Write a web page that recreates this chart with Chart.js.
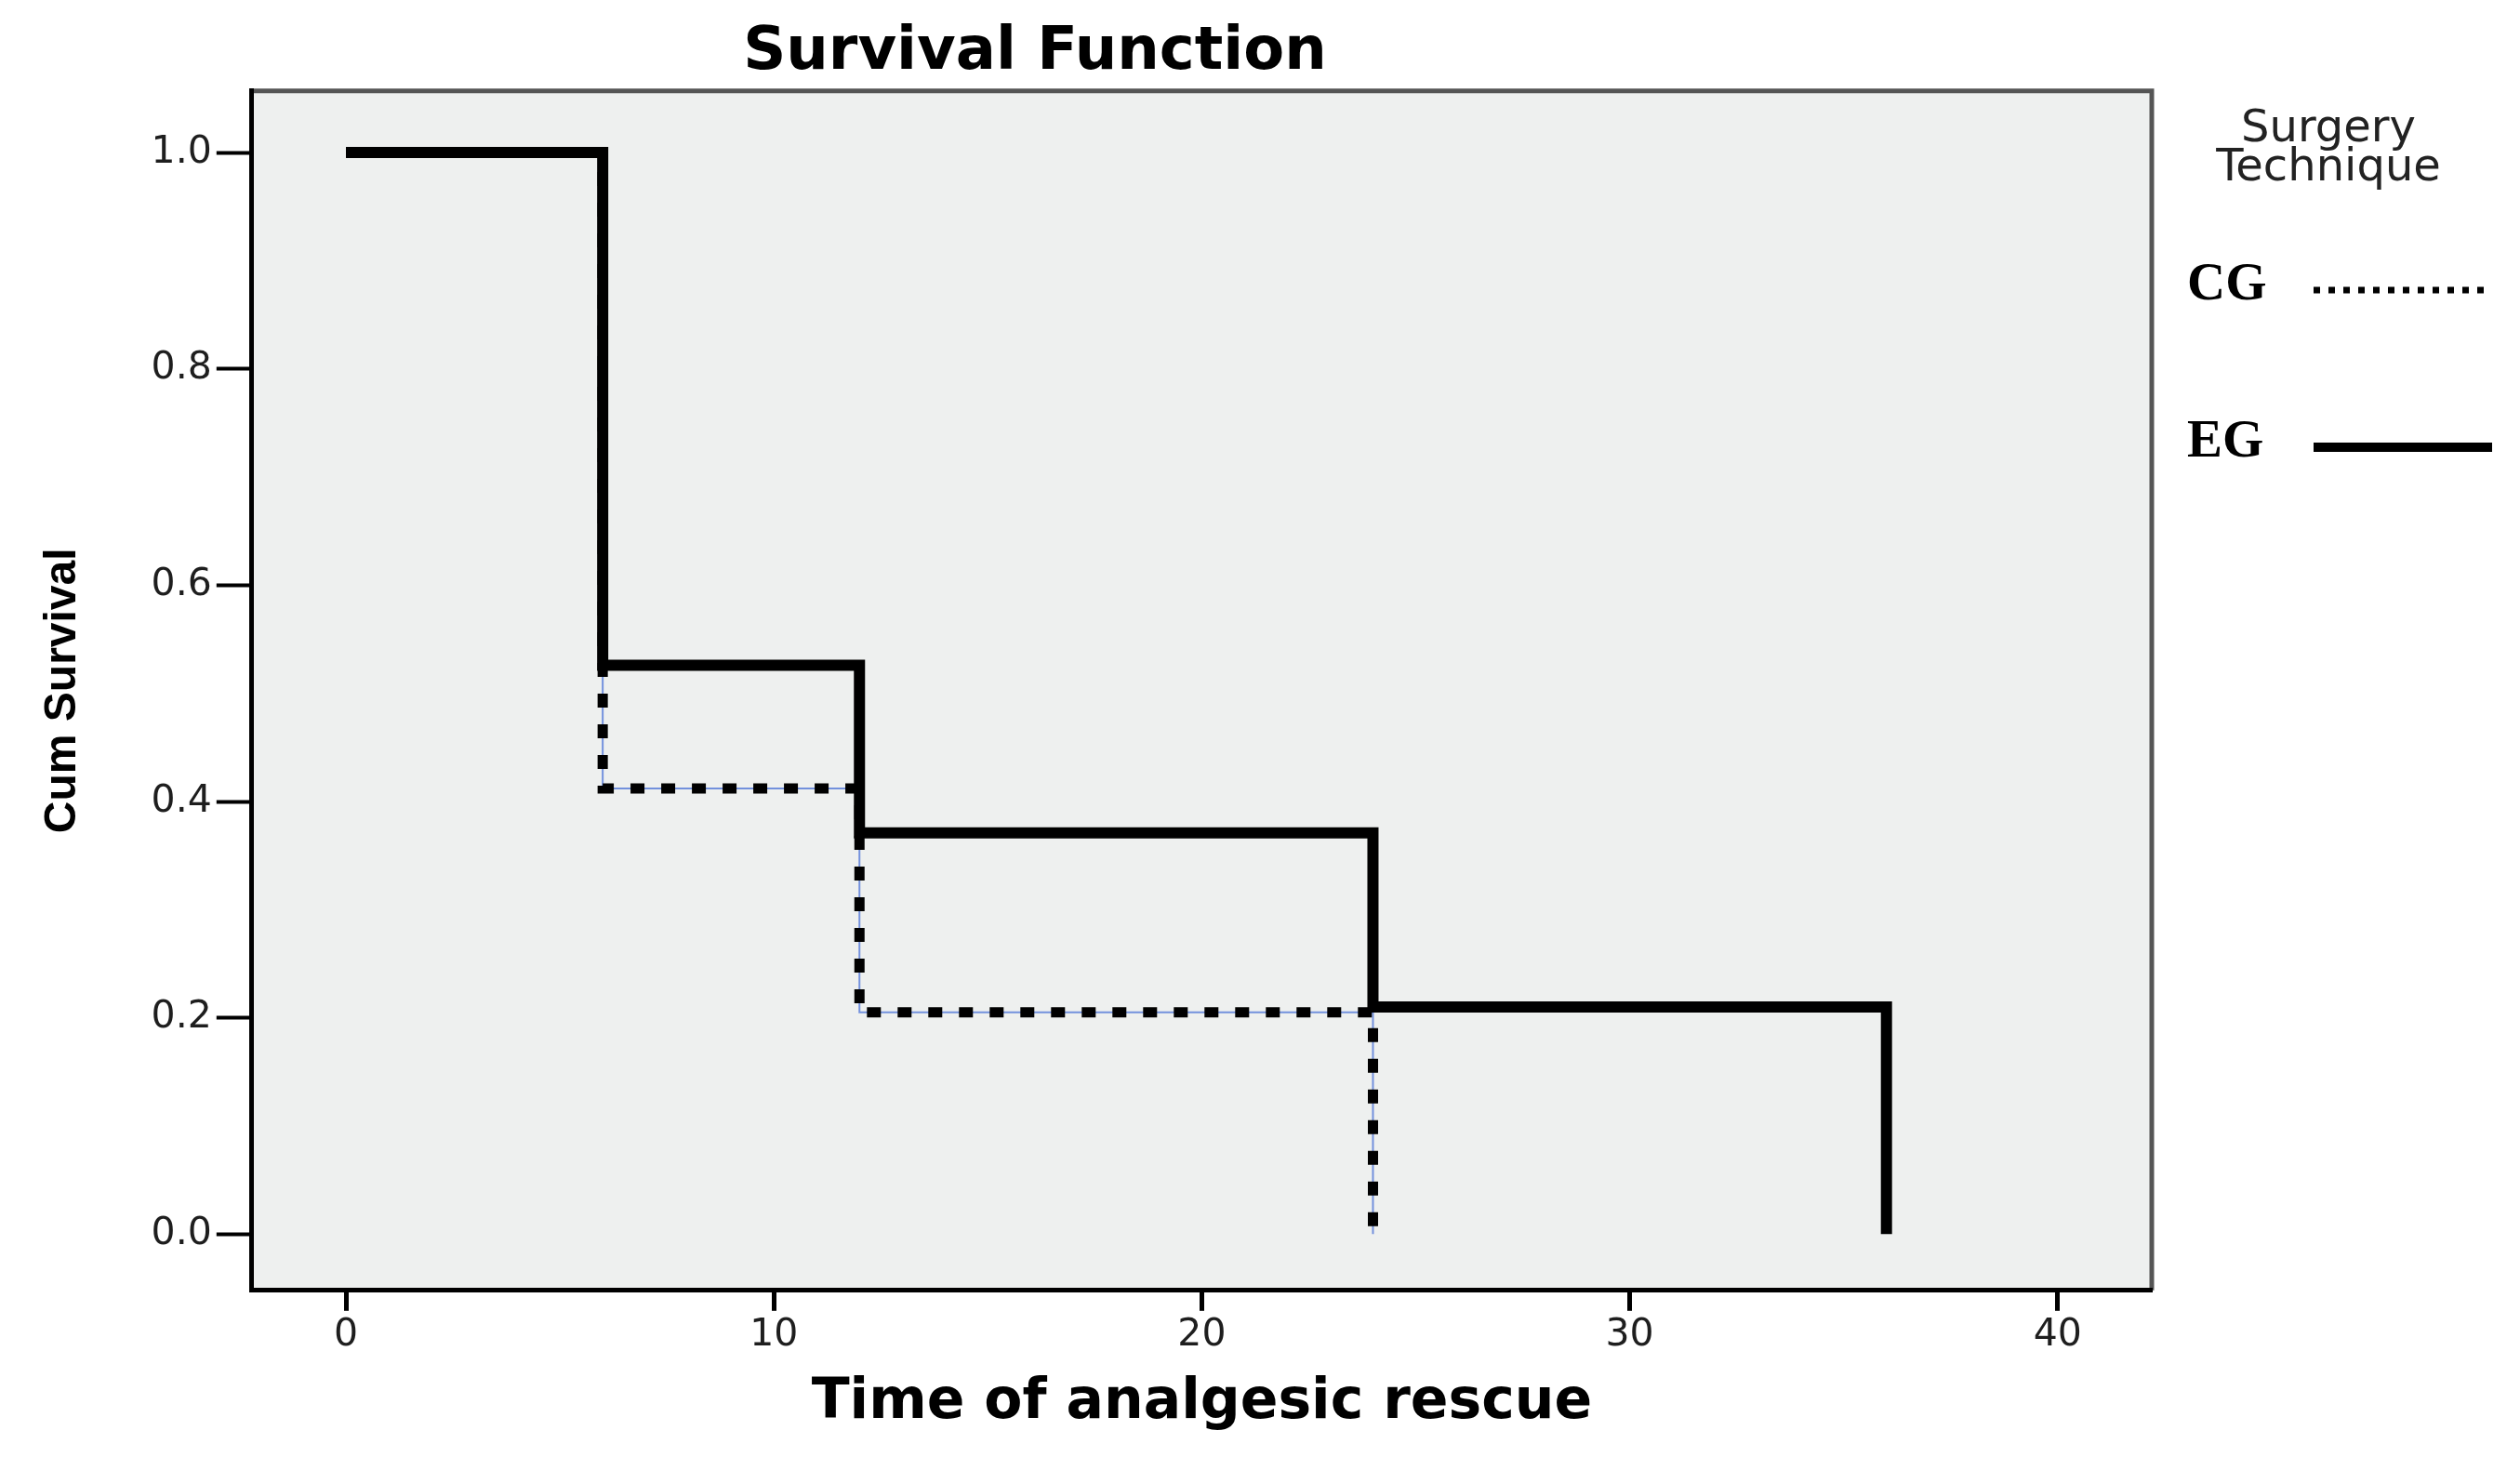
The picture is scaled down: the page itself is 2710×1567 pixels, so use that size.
<!DOCTYPE html>
<html lang="en">
<head>
  <meta charset="UTF-8" />
  <title>Survival Function</title>
  <script src="https://cdn.jsdelivr.net/npm/chart.js"></script>
  <style>
    body { margin: 0; background: #fff; }
    canvas { display: block; }
  </style>
</head>
<body>

  <canvas id="survivalChart" width="2710" height="1567"></canvas>

  <script>
    // Kaplan-Meier steps
    const groupNames = ['CG', 'EG'];
    const cgTimes = [0, 6, 12, 24];
    const cgSurvival = [1.0, 0.412, 0.205, 0.0];
    const egTimes = [0, 6, 12, 24, 36];
    const egSurvival = [1.0, 0.526, 0.371, 0.21, 0.0];

    const xTicks = [0, 10, 20, 30, 40];
    const yTicks = [0.0, 0.2, 0.4, 0.6, 0.8, 1.0];
    const legendTitle = ['Surgery', 'Technique'];

    const toPoints = (xs, ys) => xs.map((x, i) => ({ x: x, y: ys[i] }));

    const tickFont = { family: "'DejaVu Sans', sans-serif", size: 41 };

    // grey plot panel + top/right frame, title nudged left like the original
    const plotFrame = {
      id: 'plotFrame',
      afterLayout(chart) {
        const tb = chart.titleBlock;
        tb.right = tb.left + 2226;
      },
      beforeDraw(chart) {
        const { ctx, chartArea: a } = chart;
        ctx.save();
        ctx.fillStyle = '#eef0ef';
        ctx.fillRect(a.left, a.top, a.right - a.left, a.bottom - a.top);
        ctx.strokeStyle = '#555';
        ctx.lineWidth = 5;
        ctx.beginPath();
        ctx.moveTo(a.left, a.top);
        ctx.lineTo(a.right, a.top);
        ctx.lineTo(a.right, a.bottom);
        ctx.stroke();
        ctx.restore();
      }
    };

    // legend on the right: name first, line sample after it
    const sideLegend = {
      id: 'sideLegend',
      afterDraw(chart) {
        const ctx = chart.ctx;
        ctx.save();
        ctx.fillStyle = '#222';
        ctx.textAlign = 'center';
        ctx.textBaseline = 'alphabetic';
        ctx.font = "48px 'DejaVu Sans', sans-serif";
        legendTitle.forEach((line, i) => ctx.fillText(line, 2504, 152 + i * 42));

        chart.data.datasets.filter(d => d.legendRow !== undefined).forEach(d => {
          const y = 307 + d.legendRow * 169;
          ctx.fillStyle = '#000';
          ctx.textAlign = 'left';
          ctx.textBaseline = 'middle';
          ctx.font = "bold 57px 'Liberation Serif', serif";
          ctx.fillText(d.label, 2352, y);
          ctx.strokeStyle = d.borderColor;
          ctx.lineWidth = d.legendWidth;
          ctx.setLineDash(d.legendDash);
          ctx.beginPath();
          ctx.moveTo(2488, y + 5);
          ctx.lineTo(2680, y + 5);
          ctx.stroke();
        });
        ctx.restore();
      }
    };

    new Chart(document.getElementById('survivalChart'), {
      type: 'line',
      data: {
        datasets: [
          {
            label: groupNames[1],
            data: toPoints(egTimes, egSurvival),
            stepped: true,
            borderColor: '#000',
            borderWidth: 12,
            borderCapStyle: 'butt',
            borderJoinStyle: 'miter',
            pointRadius: 0,
            fill: false,
            order: 0,
            legendRow: 1,
            legendWidth: 10,
            legendDash: []
          },
          {
            label: groupNames[0],
            data: toPoints(cgTimes, cgSurvival),
            stepped: true,
            borderColor: '#000',
            borderWidth: 11,
            borderDash: [15, 18],
            borderCapStyle: 'butt',
            pointRadius: 0,
            fill: false,
            order: 1,
            legendRow: 0,
            legendWidth: 7,
            legendDash: [7, 9]
          },
          {
            // thin coloured trace SPSS leaves under the dotted line
            label: groupNames[0],
            data: toPoints(cgTimes, cgSurvival),
            stepped: true,
            borderColor: '#7391dd',
            borderWidth: 2,
            pointRadius: 0,
            fill: false,
            order: 2
          }
        ]
      },
      options: {
        responsive: false,
        animation: false,
        layout: { padding: { left: 0, right: 396, top: 0, bottom: 10 } },
        plugins: {
          legend: { display: false },
          tooltip: { enabled: false },
          title: {
            display: true,
            text: 'Survival Function',
            color: '#000',
            font: { family: "'DejaVu Sans', sans-serif", size: 64, weight: 'bold' },
            padding: { top: 19, bottom: 2 }
          }
        },
        scales: {
          x: {
            type: 'linear',
            min: -2.2,
            max: 42.2,
            afterBuildTicks: axis => { axis.ticks = xTicks.map(v => ({ value: v })); },
            ticks: { callback: v => String(v), font: tickFont, color: '#1e1e1e', padding: 2 },
            grid: { drawOnChartArea: false, tickLength: 22, tickWidth: 5, tickColor: '#000' },
            border: { color: '#000', width: 5 },
            title: {
              display: true,
              text: 'Time of analgesic rescue',
              color: '#000',
              font: { family: "'DejaVu Sans', sans-serif", size: 60, weight: 'bold' },
              padding: { top: 10, bottom: 12 }
            }
          },
          y: {
            type: 'linear',
            min: -0.052,
            max: 1.057,
            afterBuildTicks: axis => { axis.ticks = yTicks.map(v => ({ value: v })); },
            ticks: { callback: v => v.toFixed(1), font: tickFont, color: '#1e1e1e', padding: 5 },
            grid: { drawOnChartArea: false, tickLength: 38, tickWidth: 4, tickColor: '#000' },
            border: { color: '#000', width: 5 },
            title: {
              display: true,
              text: 'Cum Survival',
              color: '#000',
              font: { family: "'Liberation Sans Narrow', 'Liberation Sans', sans-serif", size: 48, weight: 'bold' },
              padding: { top: 39, bottom: 61 }
            }
          }
        }
      },
      plugins: [plotFrame, sideLegend]
    });
  </script>

</body>
</html>
